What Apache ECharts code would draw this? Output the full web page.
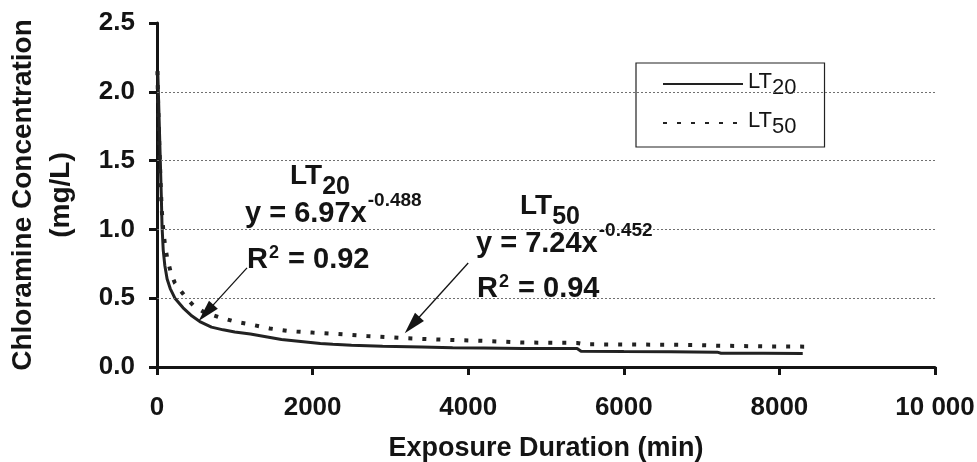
<!DOCTYPE html>
<html>
<head>
<meta charset="utf-8">
<script src="https://cdn.jsdelivr.net/npm/echarts@6/dist/echarts.min.js"></script>
<style>html,body{margin:0;padding:0;background:#fff;}#c{width:977px;height:462px;}</style>
</head>
<body>
<div id="c"></div>
<script>
// ---- data ----
const seriesNames = ['LT20', 'LT50'];
const lt20X = [10, 20, 30, 40, 55, 65, 80, 100, 130, 170, 230, 335, 450, 550, 700, 850, 1000, 1200, 1400, 1600, 1850, 2100, 2260, 2500, 2900, 3400, 3800, 4200, 4700, 5400, 5450, 6000, 6600, 7200, 7250, 7800, 8300];
const lt20Y = [2.15, 1.95, 1.75, 1.55, 1.25, 1.02, 0.85, 0.74, 0.64, 0.57, 0.50, 0.43, 0.37, 0.33, 0.29, 0.27, 0.255, 0.24, 0.22, 0.20, 0.185, 0.17, 0.165, 0.158, 0.15, 0.145, 0.14, 0.138, 0.135, 0.135, 0.115, 0.112, 0.11, 0.108, 0.10, 0.10, 0.098];
const lt50X = [5, 15, 30, 45, 60, 80, 100, 128, 180, 230, 296, 380, 463, 600, 810, 1000, 1200, 1450, 1710, 2000, 2310, 2700, 3160, 3600, 4190, 4700, 5400, 5500, 6200, 6900, 7200, 7800, 8330];
const lt50Y = [2.15, 1.9, 1.6, 1.35, 1.15, 1.0, 0.9, 0.8, 0.68, 0.61, 0.56, 0.5, 0.45, 0.40, 0.36, 0.33, 0.31, 0.28, 0.26, 0.25, 0.24, 0.225, 0.21, 0.20, 0.19, 0.178, 0.175, 0.165, 0.163, 0.16, 0.155, 0.15, 0.148];
const xTicks = [0, 2000, 4000, 6000, 8000, 10000];
const xTickLabels = ['0', '2000', '4000', '6000', '8000', '10 000'];
const yTickLabels = ['0.0', '0.5', '1.0', '1.5', '2.0', '2.5'];
const gridValues = [0.5, 1.0, 1.5, 2.0];
// arrows: [start(x,y), end(x,y)] in data units
const arrowLT20 = [[1157, 0.72], [630, 0.393]];
const arrowLT50 = [[4000, 0.756], [3279, 0.305]];

const pairs = (xs, ys) => xs.map((x, i) => [x, ys[i]]);
const FONT = 'Liberation Sans, Arial, sans-serif';
const INK = '#141414';

const chart = echarts.init(document.getElementById('c'), null, {renderer: 'canvas'});

const gridLines = gridValues.map(v => ({yAxis: v, lineStyle: {type: [2, 2], color: '#707070', width: 1}}));
const arrowItem = (a) => [
  {coord: a[0], symbol: 'none'},
  {coord: a[1], symbol: 'triangle', symbolSize: [12, 22]}
];

const B = {fontWeight: 'bold', fontFamily: FONT, color: INK};
const richEq = {
  lt: Object.assign({fontSize: 28, lineHeight: 38, verticalAlign: 'top'}, B),
  sub: Object.assign({fontSize: 25, lineHeight: 38, verticalAlign: 'bottom'}, B),
  m: Object.assign({fontSize: 29, lineHeight: 38, verticalAlign: 'bottom'}, B),
  sup: Object.assign({fontSize: 19, lineHeight: 38, verticalAlign: 'top', padding: [1, 0, 0, 1]}, B),
  r: Object.assign({fontSize: 29, lineHeight: 30, verticalAlign: 'bottom'}, B),
  sq: Object.assign({fontSize: 18, lineHeight: 20, verticalAlign: 'top', padding: [0, 1, 0, 1]}, B)
};
function label(x, y, text) {
  return {type: 'text', x: x, y: y, z: 10, silent: true,
    style: {text: text, rich: richEq, fontFamily: FONT, fill: INK, align: 'left', verticalAlign: 'top'}};
}

chart.setOption({
  animation: false,
  backgroundColor: '#fff',
  grid: {left: 157, right: 42, top: 23, bottom: 95, containLabel: false, outerBoundsMode: 'none'},
  legend: {
    data: seriesNames,
    orient: 'vertical', left: 636, top: 63,
    padding: [6, 28, 9, 26],
    itemWidth: 80, itemHeight: 14, itemGap: 9,
    borderColor: '#222', borderWidth: 1.2, borderRadius: 0,
    backgroundColor: '#fff',
    itemStyle: {opacity: 0},
    formatter: n => '{lt|' + n.slice(0, 2) + '}{sub|' + n.slice(2) + '}',
    textStyle: {
      color: INK, fontFamily: FONT, fontSize: 21,
      rich: {
        lt: {fontSize: 22, fontFamily: FONT, color: INK, lineHeight: 30, verticalAlign: 'top', padding: [2, 0, 0, 0]},
        sub: {fontSize: 22, fontFamily: FONT, color: INK, lineHeight: 30, verticalAlign: 'bottom'}
      }
    }
  },
  xAxis: {
    type: 'value', min: 0, max: 10000, interval: 2000,
    axisLine: {show: true, onZero: false, lineStyle: {color: INK, width: 3}},
    axisTick: {show: true, length: 8, lineStyle: {color: INK, width: 3}},
    axisLabel: {
      margin: 28, fontSize: 26, fontWeight: 'bold', fontFamily: FONT, color: INK,
      formatter: v => xTickLabels[xTicks.indexOf(v)]
    },
    splitLine: {show: false},
    name: 'Exposure Duration (min)', nameLocation: 'middle', nameGap: 68,
    nameTextStyle: {fontSize: 27, fontWeight: 'bold', fontFamily: FONT, color: INK}
  },
  yAxis: {
    type: 'value', min: 0, max: 2.5, interval: 0.5,
    axisLine: {show: true, onZero: false, lineStyle: {color: INK, width: 3}},
    axisTick: {show: true, length: 8, lineStyle: {color: INK, width: 3}},
    axisLabel: {
      margin: 22, fontSize: 26, fontWeight: 'bold', fontFamily: FONT, color: INK,
      formatter: v => yTickLabels[Math.round(v / 0.5)]
    },
    splitLine: {show: false},
    name: 'Chloramine Concentration\n(mg/L)', nameLocation: 'middle', nameGap: 77,
    nameTextStyle: {fontSize: 28, fontWeight: 'bold', fontFamily: FONT, color: INK, lineHeight: 38}
  },
  series: [
    {
      name: seriesNames[0], type: 'line', data: pairs(lt20X, lt20Y),
      symbol: 'none', showSymbol: false, z: 3,
      lineStyle: {color: '#222', width: 3},
      itemStyle: {color: '#222'},
      markLine: {
        silent: true, symbol: ['none', 'none'], label: {show: false}, animation: false,
        lineStyle: {color: INK, width: 1.3, type: 'solid'},
        data: gridLines.concat([arrowItem(arrowLT20), arrowItem(arrowLT50)])
      }
    },
    {
      name: seriesNames[1], type: 'line', data: pairs(lt50X, lt50Y),
      symbol: 'none', showSymbol: false, z: 3,
      lineStyle: {color: '#222', width: 4, type: [4, 10]},
      itemStyle: {color: '#222'}
    }
  ],
  graphic: [
    label(290, 162, '{lt|LT}{sub|20}'),
    label(245, 190, '{m|y = 6.97x}{sup|-0.488}'),
    label(247, 244, '{r|R}{sq|2}{r| = 0.92}'),
    label(520, 192, '{lt|LT}{sub|50}'),
    label(476, 220, '{m|y = 7.24x}{sup|-0.452}'),
    label(477, 273, '{r|R}{sq|2}{r| = 0.94}')
  ]
});
</script>
</body>
</html>
